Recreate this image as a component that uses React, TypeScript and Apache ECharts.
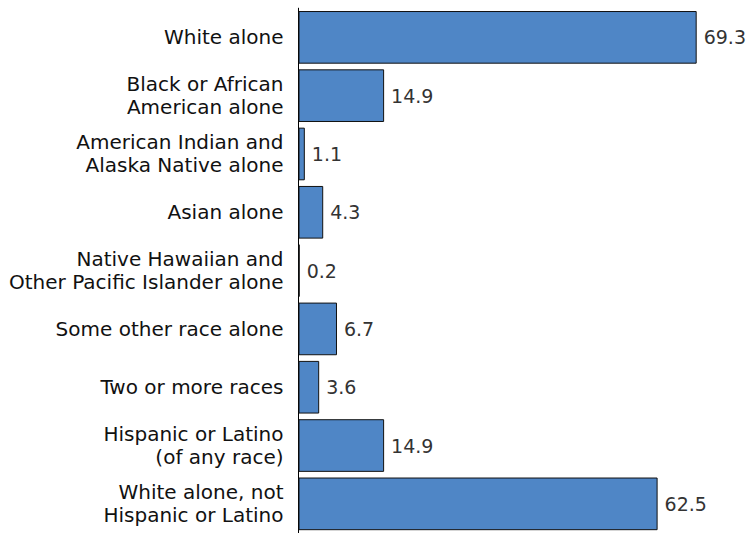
import React, { useEffect, useRef } from "react";
import * as echarts from "echarts";

const categories = [
  "White alone",
  "Black or African\nAmerican alone",
  "American Indian and\nAlaska Native alone",
  "Asian alone",
  "Native Hawaiian and\nOther Pacific Islander alone",
  "Some other race alone",
  "Two or more races",
  "Hispanic or Latino\n(of any race)",
  "White alone, not\nHispanic or Latino",
];
const values = [69.3, 14.9, 1.1, 4.3, 0.2, 6.7, 3.6, 14.9, 62.5];

export default function App() {
  const ref = useRef<HTMLDivElement>(null);
  useEffect(() => {
    const chart = echarts.init(ref.current!, null, { renderer: "svg" });
    chart.setOption({
      animation: false,
      grid: { left: 298.5, top: 8.2, width: 402.2, height: 528 },
      xAxis: {
        type: "value",
        min: 0,
        max: 70,
        show: false,
      },
      yAxis: {
        type: "category",
        inverse: true,
        data: categories,
        axisLine: { show: true, lineStyle: { color: "#000", width: 1 } },
        axisTick: { show: false },
        axisLabel: {
          margin: 15,
          fontFamily: "DejaVu Sans",
          fontSize: 20,
          lineHeight: 23,
          color: "#111",
          align: "right",
          padding: [3, 0, 0, 0],
        },
      },
      series: [
        {
          type: "bar",
          data: values,
          barCategoryGap: "9.7%",
          itemStyle: { color: "#4F86C6", borderColor: "#111", borderWidth: 1 },
          label: {
            show: true,
            position: "right",
            distance: 7,
            fontFamily: "DejaVu Sans",
            fontSize: 19,
            color: "#333",
            formatter: (p: any) => p.value.toFixed(1),
          },
        },
      ],
    });
    return () => chart.dispose();
  }, []);
  return (
    <div
      ref={ref}
      style={{ position: "absolute", left: 0, top: 0, width: 753, height: 533 }}
    />
  );
}
